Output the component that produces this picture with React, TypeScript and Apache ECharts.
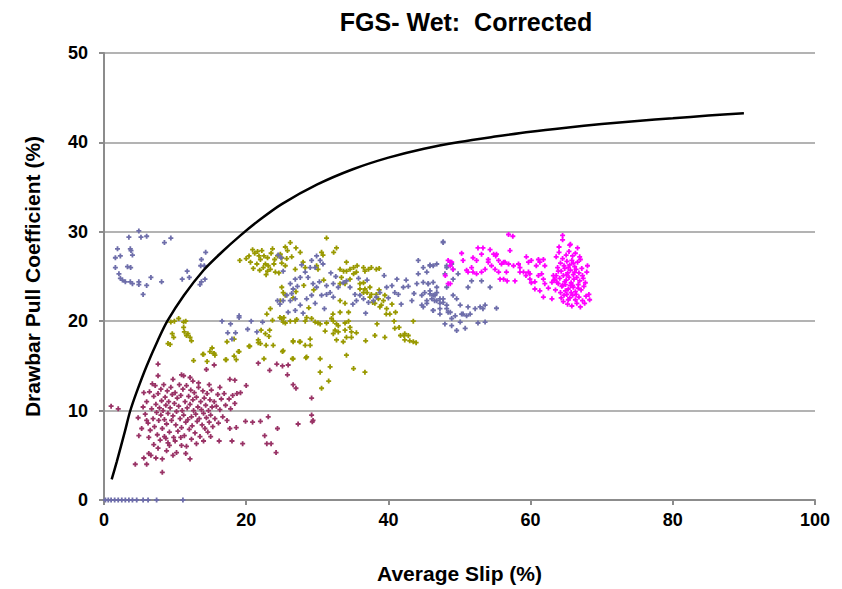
import React, { useEffect, useRef } from "react";
import * as echarts from "echarts";

const titleText = "FGS- Wet:  Corrected";
const xAxisName = "Average Slip (%)";
const yAxisName = "Drawbar Pull Coefficient (%)";

const maroonPoints: number[][] = [
  [1.0, 10.5], [2.0, 10.2], [7.6, 15.2], [7.6, 13.9], [10.9, 14.0], [11.2, 13.9], [12.1, 13.7], [13.3, 13.1],
  [14.4, 14.6], [15.5, 15.1], [17.7, 13.5], [18.4, 13.4], [19.2, 12.0], [20.0, 12.8], [21.7, 15.3], [23.3, 14.5],
  [24.3, 15.2], [25.1, 15.0], [25.9, 15.1], [25.8, 14.0], [26.6, 12.9], [27.0, 12.5], [29.2, 11.4], [29.2, 9.5],
  [29.4, 8.9], [29.3, 8.75], [27.3, 8.5], [24.4, 8.0], [23.1, 9.3], [22.0, 8.8], [20.9, 8.7], [19.9, 8.8],
  [22.6, 7.2], [22.9, 6.3], [23.5, 6.3], [24.2, 5.3], [19.5, 6.3], [18.0, 6.6], [18.6, 8.1], [17.7, 8.0],
  [4.4, 4.0], [6.0, 4.0], [8.2, 3.1], [6.3, 5.2], [6.6, 5.0], [7.3, 4.7], [8.8, 5.5], [9.2, 6.1], [10.2, 5.3],
  [10.9, 6.1], [11.5, 5.2], [12.1, 4.6], [8.2, 4.6], [9.7, 5.0], [5.6, 4.7], [4.9, 7.2], [4.8, 9.2],
  [5.5, 10.4], [5.8, 9.6], [6.0, 11.0], [6.2, 8.6], [6.4, 12.1], [6.5, 7.8], [6.7, 10.2], [6.9, 9.1], [7.0, 11.6],
  [7.1, 8.2], [7.2, 12.8], [7.3, 10.7], [7.4, 9.8], [7.5, 7.3], [7.6, 11.9], [7.7, 8.9], [7.8, 10.3], [7.9, 6.7],
  [8.0, 12.4], [8.0, 9.5], [8.1, 11.1], [8.2, 8.0], [8.3, 10.0], [8.4, 12.9], [8.5, 7.1], [8.5, 9.0], [8.6, 11.5],
  [8.7, 10.6], [8.8, 8.5], [8.9, 12.2], [9.0, 9.7], [9.0, 6.4], [9.1, 11.0], [9.2, 7.6], [9.3, 10.3], [9.4, 12.6],
  [9.5, 8.9], [9.6, 11.8], [9.7, 9.4], [9.8, 7.0], [9.9, 10.8], [10.0, 12.0], [10.1, 8.4], [10.2, 9.9], [10.3, 11.4],
  [10.4, 7.7], [10.5, 10.5], [10.6, 12.9], [10.7, 9.1], [10.8, 11.7], [10.9, 8.1], [11.0, 10.0], [11.1, 12.4],
  [11.2, 9.5], [11.3, 7.2], [11.4, 11.0], [11.5, 8.7], [11.6, 12.8], [11.7, 10.3], [11.8, 9.0], [11.9, 11.6],
  [12.0, 7.9], [12.1, 10.7], [12.2, 12.3], [12.3, 9.3], [12.4, 8.3], [12.5, 11.2], [12.6, 10.0], [12.7, 12.0],
  [12.8, 7.5], [12.9, 9.6], [13.0, 11.5], [13.1, 8.8], [13.2, 10.4], [13.3, 12.6], [13.4, 9.1], [13.5, 7.1],
  [13.6, 11.0], [13.7, 10.1], [13.8, 8.4], [13.9, 12.2], [14.0, 9.7], [14.1, 11.4], [14.2, 8.0], [14.3, 10.6],
  [14.4, 9.2], [14.5, 11.9], [14.6, 7.6], [14.7, 10.0], [14.8, 8.7], [14.9, 11.2], [15.0, 9.5], [15.1, 12.3],
  [15.2, 10.4], [15.3, 8.2], [15.5, 11.0], [15.6, 9.1], [15.8, 10.5], [16.0, 11.8], [16.1, 8.6], [16.3, 10.1],
  [16.5, 11.3], [16.7, 9.3], [16.9, 11.9], [17.1, 10.6], [17.3, 8.9], [17.6, 11.3], [17.8, 10.2], [18.1, 11.7],
  [18.4, 10.8], [18.7, 11.9], [7.0, 6.2], [7.6, 5.8], [8.7, 6.9], [10.0, 6.6], [10.8, 7.0], [12.3, 6.8], [13.0, 6.3],
  [14.0, 6.6], [15.0, 7.1], [16.2, 6.6], [11.6, 6.0], [6.3, 7.0], [6.0, 8.9], [5.3, 8.0], [5.6, 12.0], [6.8, 13.0],
  [9.7, 13.5], [12.5, 13.3], [14.8, 12.9], [16.3, 12.6],
];

const olivePoints: number[][] = [
  [9.4, 19.9], [9.9, 20.0], [10.5, 20.3], [11.2, 19.9], [11.5, 20.0], [9.6, 18.6], [9.8, 18.2], [11.2, 19.3],
  [11.3, 18.8], [11.6, 18.4], [12.1, 18.2], [12.3, 17.8], [11.8, 18.6], [9.0, 17.5], [9.3, 17.4], [12.6, 15.6],
  [13.9, 16.3], [14.5, 15.5], [15.4, 16.4], [15.6, 16.2], [17.3, 17.7], [18.9, 16.6], [18.3, 16.1], [18.6, 15.7],
  [17.2, 15.7], [20.4, 17.2], [21.7, 17.6], [22.8, 17.3], [23.8, 17.3], [25.1, 16.6], [22.5, 15.8], [26.5, 15.8],
  [28.4, 15.9], [26.6, 17.7], [27.5, 17.7], [29.0, 17.3], [15.2, 17.0], [15.5, 16.4], [14.9, 16.6], [14.0, 16.3],
  [18.3, 18.0], [19.0, 16.6], [17.1, 15.7],
  [22.9, 20.8], [23.4, 21.4], [22.1, 19.0], [22.7, 18.6], [23.3, 19.0], [23.2, 18.3], [21.7, 17.9], [22.0, 17.5],
  [20.5, 17.2], [23.7, 20.1], [25.3, 20.4],
  [19.1, 26.8], [20.4, 27.3], [21.6, 27.8], [21.8, 27.3], [22.0, 26.9], [22.5, 27.3], [23.0, 27.1], [22.7, 26.4],
  [23.1, 26.2], [23.4, 25.8], [23.9, 26.4], [24.1, 25.5], [24.6, 25.4], [21.5, 26.4], [21.9, 25.7], [20.6, 26.6],
  [24.4, 27.3], [24.8, 27.5], [20.0, 27.0], [21.2, 27.6], [22.2, 27.9], [23.5, 27.6], [22.4, 26.0], [23.0, 25.6],
  [24.0, 26.9], [21.0, 25.9], [22.8, 25.2], [25.0, 26.5], [20.9, 28.0], [23.7, 28.1],
  [26.2, 28.8], [31.3, 29.3], [25.5, 28.3], [27.0, 28.2], [27.6, 27.7], [25.8, 27.9], [30.6, 27.7], [30.8, 27.4],
  [32.3, 27.7], [32.7, 28.2], [25.0, 27.1], [25.7, 27.0], [26.4, 27.2], [28.0, 26.6], [28.3, 26.0], [26.9, 25.8],
  [25.5, 26.2], [29.9, 26.2], [30.1, 25.8], [34.1, 26.6], [33.2, 25.8], [33.7, 25.6], [34.6, 25.8], [35.1, 26.0],
  [35.6, 26.2], [36.5, 26.0], [36.7, 25.6], [37.2, 25.8], [37.6, 26.0], [38.3, 25.8], [38.7, 25.9], [25.0, 23.8],
  [25.2, 23.2], [25.5, 22.9], [24.8, 22.3],
  [24.75, 20.4], [25.0, 20.3], [25.2, 19.9], [25.5, 19.8], [26.2, 20.0], [26.9, 20.0], [27.1, 20.2], [28.3, 20.0],
  [28.5, 20.4], [29.2, 20.3], [29.7, 19.9], [30.1, 19.8], [30.4, 19.7], [31.3, 19.8], [32.0, 20.3], [32.25, 20.0],
  [32.7, 19.7], [32.95, 19.5], [33.9, 19.8], [34.4, 20.0],
  [36.5, 24.3], [36.7, 23.6], [37.0, 23.2], [37.4, 23.8], [37.4, 22.7], [37.8, 22.1], [38.3, 23.0], [38.7, 23.5],
  [38.6, 22.5], [39.0, 21.8], [39.3, 22.3], [39.5, 22.9], [39.75, 21.4], [40.2, 20.8], [39.7, 20.8], [38.8, 21.6],
  [38.1, 22.0], [37.6, 23.0], [40.8, 20.0], [41.5, 19.3], [42.3, 18.6], [43.0, 17.8], [41.0, 21.0], [40.5, 21.9],
  [34.1, 25.6], [33.4, 24.9], [33.2, 24.2], [33.9, 24.2], [34.6, 24.7], [35.1, 25.3], [35.5, 25.5], [36.0, 24.2],
  [36.0, 23.6], [36.5, 23.2], [33.2, 22.3], [33.9, 22.0], [34.4, 21.0], [33.2, 21.0], [32.2, 20.8], [26.6, 22.6],
  [28.1, 24.0], [27.0, 23.3], [29.5, 23.5], [30.9, 24.6], [28.8, 21.5],
  [26.6, 17.8], [27.6, 17.7], [29.0, 18.0], [28.3, 17.3], [25.2, 16.7], [28.5, 16.0], [26.6, 15.8], [31.1, 18.9],
  [32.5, 19.0], [32.25, 18.6], [32.95, 18.8], [33.9, 19.0], [34.6, 19.3], [34.8, 18.8], [35.5, 18.7], [34.1, 18.2],
  [34.8, 18.2], [33.65, 17.7], [32.7, 17.9], [36.8, 17.8], [38.1, 18.4], [39.5, 18.2], [38.4, 19.7], [40.9, 19.2],
  [41.7, 18.4], [42.3, 17.9], [42.8, 18.4], [42.2, 18.4], [43.5, 17.7], [43.9, 17.6], [43.5, 20.0], [34.1, 16.2],
  [31.8, 14.9], [35.1, 14.7], [30.4, 14.3], [36.7, 14.3], [30.4, 15.8], [30.6, 12.5], [31.6, 13.3],
];

const slatePoints: number[][] = [
  [4.9, 30.1], [3.5, 29.4], [5.2, 29.4], [6.0, 29.5], [8.5, 28.8], [9.4, 29.3], [1.9, 28.1], [3.7, 28.1],
  [3.8, 27.9], [4.0, 27.4], [2.3, 27.3], [1.6, 27.1], [3.3, 26.1], [3.75, 26.0], [1.6, 26.0], [2.1, 25.3],
  [2.3, 24.8], [2.6, 24.6], [3.0, 24.4], [3.7, 24.4], [4.0, 24.2], [4.9, 24.4], [4.9, 24.1], [6.0, 24.0],
  [6.6, 24.9], [8.1, 24.4], [5.5, 23.0], [11.0, 24.7], [11.7, 25.6], [12.0, 24.9], [13.6, 26.2], [14.1, 26.2],
  [14.3, 27.7], [13.7, 26.9], [13.5, 24.1], [13.7, 24.4], [14.2, 24.7],
  [19.0, 20.6], [19.0, 20.4], [16.6, 20.0], [17.8, 19.7], [17.4, 18.7], [18.5, 18.7], [18.0, 18.0], [20.2, 19.1],
  [20.7, 20.0], [21.5, 18.8], [22.3, 19.9], [24.4, 22.3], [24.75, 21.9], [24.5, 27.4], [24.9, 27.1], [25.2, 25.6],
  [29.2, 26.8], [29.9, 27.3], [30.4, 26.8], [30.8, 26.4], [29.7, 26.0], [29.0, 26.0], [28.3, 25.5], [27.6, 24.9],
  [26.9, 24.7], [26.2, 24.2], [26.6, 23.6], [26.4, 23.1], [25.7, 22.9], [25.2, 22.3], [26.2, 22.3], [26.9, 22.5],
  [27.6, 21.8], [26.9, 21.2], [25.9, 21.0], [28.7, 24.9], [29.4, 24.2], [29.9, 23.8], [30.6, 22.9], [31.3, 23.0],
  [31.8, 23.2], [32.25, 22.7], [29.2, 22.9], [28.5, 22.5], [29.7, 22.0], [31.3, 23.97], [32.25, 24.2], [32.95, 23.8],
  [33.65, 24.3], [34.1, 24.5], [34.6, 23.8], [35.3, 23.0], [35.5, 22.3], [36.0, 22.9], [36.5, 22.5], [37.2, 22.1],
  [37.9, 22.3], [38.3, 22.7], [38.8, 23.2], [39.75, 23.8], [40.5, 23.97], [41.2, 24.7], [40.9, 23.2], [41.4, 23.0],
  [42.1, 23.8], [42.8, 23.9], [43.3, 22.3], [44.0, 24.2], [44.2, 25.3], [44.2, 26.8], [44.9, 26.0], [45.6, 24.2],
  [45.85, 23.4], [46.3, 22.9], [46.8, 23.2], [46.5, 22.3], [47.25, 22.0], [47.7, 22.5], [48.2, 21.8], [48.4, 21.0],
  [47.25, 20.8], [46.3, 21.2], [45.4, 22.0], [44.7, 21.8], [45.85, 26.2], [46.8, 26.4], [47.7, 28.8], [48.2, 26.0],
  [47.7, 28.9], [45.85, 26.3], [46.3, 26.2], [45.4, 25.5], [44.9, 24.35], [45.6, 24.2], [46.3, 24.35], [46.8, 23.8],
  [45.1, 23.2], [45.85, 23.05], [46.55, 22.9], [44.7, 22.9], [45.4, 22.3], [46.1, 22.5], [46.8, 22.3], [47.25, 22.5],
  [47.7, 22.1], [47.25, 21.4], [46.3, 21.2], [44.9, 21.6], [47.95, 25.3], [48.2, 26.2], [48.9, 26.4], [49.1, 25.8],
  [49.8, 25.3], [49.1, 24.7], [48.2, 23.8], [49.1, 22.9], [49.6, 22.5], [50.1, 21.8], [50.3, 20.8], [49.4, 20.6],
  [48.7, 21.0], [48.2, 21.4], [51.2, 21.6], [51.5, 20.8], [51.0, 20.6], [50.5, 20.8], [52.2, 21.4], [52.9, 21.6],
  [53.6, 21.8], [53.3, 21.4], [55.2, 21.45], [54.3, 23.8], [53.1, 24.5], [51.2, 23.8], [51.7, 24.5], [47.95, 19.7],
  [48.9, 19.5], [49.6, 18.96], [50.8, 19.2], [50.1, 19.9], [52.6, 19.8], [53.6, 19.9], [48.9, 20.3],
  [27.8, 26.3], [31.9, 25.4], [30.3, 24.4], [27.2, 23.9], [32.6, 25.0], [35.8, 24.8], [39.4, 25.1], [37.0, 24.6],
  [40.0, 22.6], [43.6, 23.1], [42.5, 24.6], [35.0, 21.9], [31.0, 21.4], [28.0, 20.9], [36.8, 20.9], [41.8, 21.9],
  [0.2, 0], [0.6, 0], [1.0, 0], [1.5, 0], [2.0, 0], [2.5, 0], [3.0, 0], [3.5, 0], [4.0, 0], [4.6, 0], [5.5, 0],
  [6.2, 0], [7.4, 0], [11.1, 0],
];

const magentaPoints: number[][] = [
  [48.4, 26.8], [48.75, 26.6], [49.1, 25.8], [48.0, 25.1], [48.4, 24.2], [48.9, 26.6], [48.7, 26.2], [50.3, 27.6],
  [50.5, 26.8], [51.9, 27.1], [52.6, 28.2], [53.3, 28.2], [53.1, 27.5], [52.4, 26.8], [54.3, 28.0], [54.8, 27.5],
  [55.1, 27.3], [54.05, 26.6], [54.5, 26.2], [55.5, 26.8], [55.9, 26.4], [56.2, 26.6], [56.9, 26.4], [57.1, 27.9],
  [57.6, 26.2], [58.3, 26.4], [58.5, 26.0], [59.4, 27.2], [59.7, 26.6], [60.1, 26.8], [60.8, 26.2], [61.3, 26.6],
  [61.8, 26.9], [62.0, 26.2], [61.1, 26.9], [56.9, 29.7], [57.5, 29.5], [54.05, 26.9], [51.0, 25.7], [51.2, 25.5],
  [51.9, 25.5], [52.4, 25.3], [53.1, 25.5], [53.6, 25.8], [55.0, 25.8], [55.5, 25.5], [55.7, 24.7], [56.2, 24.7],
  [56.7, 24.5], [58.5, 25.5], [59.0, 25.5], [59.35, 25.1], [59.7, 25.5], [59.9, 24.7], [60.1, 24.3], [60.6, 24.4],
  [61.1, 25.1], [61.55, 25.3], [61.8, 24.7], [62.0, 24.2], [62.5, 23.7], [61.3, 23.4], [60.6, 23.6], [63.0, 24.35],
  [63.2, 25.1], [63.4, 24.7], [63.7, 24.35], [63.0, 22.5], [61.8, 22.7], [59.9, 25.3], [56.6, 25.5], [57.8, 24.5],
  [51.7, 26.0], [48.7, 24.2], [64.5, 29.6], [64.5, 29.1], [65.5, 28.5], [55.2, 27.5], [56.4, 26.6],
  [64.0, 27.7], [64.5, 27.0], [65.0, 27.4], [65.4, 27.8], [65.9, 27.3], [66.3, 27.6], [64.2, 26.5], [64.7, 26.2],
  [65.1, 26.7], [65.5, 26.3], [65.8, 26.8], [66.2, 26.1], [66.6, 26.6], [67.0, 26.9], [63.8, 26.0], [64.3, 25.6],
  [64.8, 25.9], [65.2, 25.4], [65.6, 25.7], [66.0, 25.2], [66.4, 25.8], [66.8, 25.4], [67.2, 25.9], [63.6, 25.1],
  [64.1, 24.8], [64.6, 25.1], [65.0, 24.6], [65.4, 24.9], [65.7, 24.3], [66.1, 24.7], [66.5, 24.9], [66.9, 24.5],
  [67.4, 24.8], [63.9, 24.2], [64.4, 23.9], [64.9, 24.1], [65.3, 23.6], [65.6, 24.0], [66.0, 23.8], [66.3, 23.3],
  [66.7, 23.7], [67.1, 23.5], [67.5, 23.9], [64.2, 23.2], [64.7, 22.9], [65.1, 23.0], [65.5, 22.6], [65.9, 22.9],
  [66.3, 22.4], [66.8, 22.7], [67.3, 22.3], [67.8, 22.8], [68.2, 23.0], [64.6, 22.2], [65.2, 21.9], [65.8, 21.7],
  [66.5, 22.0], [67.0, 21.6], [63.5, 23.5], [63.3, 24.6], [67.7, 24.3], [67.9, 25.5], [68.0, 26.2], [63.6, 27.2],
  [64.0, 28.3], [66.6, 28.2], [65.6, 28.6], [64.8, 24.4], [65.9, 24.0], [66.2, 25.5], [65.3, 26.0], [64.5, 24.0],
  [66.7, 24.1], [65.1, 25.2], [66.0, 26.5], [64.9, 23.4], [65.7, 23.2], [66.4, 23.0], [67.3, 25.1], [63.9, 25.6],
  [64.3, 22.6], [66.9, 27.2], [65.3, 22.4], [67.6, 22.0], [68.3, 22.4],
];

const curvePoints: number[][] = [
  [1.08, 2.3], [1.8, 4.3], [2.95, 7.7], [3.66, 9.9], [4.6, 12.1], [6.0, 15.0], [7.6, 17.9], [8.9, 20.0],
  [11.25, 22.9], [14.0, 25.7], [16.4, 27.6], [19.2, 29.6], [22.0, 31.4], [25.0, 33.1], [30.0, 35.3], [35.0, 37.0],
  [40.0, 38.3], [45.0, 39.3], [50.0, 40.05], [55.0, 40.65], [60.0, 41.2], [65.0, 41.65], [70.0, 42.05], [75.0, 42.4],
  [80.0, 42.7], [85.0, 43.0], [90.0, 43.25],
];

const FONT = '"Liberation Sans", Arial, sans-serif';
const PLUS = "path://M1.6,0L3.4,0L3.4,1.6L5,1.6L5,3.4L3.4,3.4L3.4,5L1.6,5L1.6,3.4L0,3.4L0,1.6L1.6,1.6Z";

function scatter(name: string, data: number[][], color: string) {
  return {
    name,
    type: "scatter",
    data,
    symbol: PLUS,
    symbolSize: 5,
    itemStyle: { color, opacity: 1 },
    silent: true,
  };
}

export default function App() {
  const ref = useRef<HTMLDivElement>(null);
  useEffect(() => {
    if (!ref.current) return;
    const chart = echarts.init(ref.current, null, { renderer: "svg" });
    chart.setOption({
      animation: false,
      backgroundColor: "#ffffff",
      grid: { left: 104, right: 27, top: 53, bottom: 87, containLabel: false },
      graphic: [
        {
          type: "text",
          x: 466,
          y: 22,
          style: {
            text: titleText,
            font: `bold 25px ${FONT}`,
            fill: "#000",
            textAlign: "center",
            textVerticalAlign: "middle",
          },
        },
      ],
      xAxis: {
        type: "value",
        min: 0,
        max: 100,
        interval: 20,
        name: xAxisName,
        nameLocation: "middle",
        nameGap: 63,
        nameTextStyle: { fontFamily: FONT, fontWeight: "bold", fontSize: 21, color: "#000" },
        axisLine: { show: true, onZero: false, lineStyle: { color: "#8c8c8c", width: 2 } },
        axisTick: { show: true, length: 5, lineStyle: { color: "#8c8c8c", width: 2 } },
        axisLabel: { fontFamily: FONT, fontWeight: "bold", fontSize: 18, color: "#000", margin: 11 },
        splitLine: { show: false },
      },
      yAxis: {
        type: "value",
        min: 0,
        max: 50,
        interval: 10,
        name: yAxisName,
        nameLocation: "middle",
        nameGap: 61,
        nameRotate: 90,
        nameTextStyle: { fontFamily: FONT, fontWeight: "bold", fontSize: 21, color: "#000" },
        axisLine: { show: true, lineStyle: { color: "#8c8c8c", width: 2 } },
        axisTick: { show: true, length: 5, lineStyle: { color: "#8c8c8c", width: 2 } },
        axisLabel: { fontFamily: FONT, fontWeight: "bold", fontSize: 18, color: "#000", margin: 16 },
        splitLine: { show: true, lineStyle: { color: "#9a9a9a", width: 1.5 } },
      },
      series: [
        scatter("maroon", maroonPoints, "#993366"),
        scatter("olive", olivePoints, "#999900"),
        scatter("slate", slatePoints, "#6e6eaa"),
        scatter("magenta", magentaPoints, "#ff00ff"),
        {
          name: "fit",
          type: "line",
          data: curvePoints,
          showSymbol: false,
          smooth: 0.3,
          lineStyle: { color: "#000", width: 2.5 },
          z: 10,
          silent: true,
        },
      ],
    });
    return () => chart.dispose();
  }, []);
  return (
    <div
      ref={ref}
      style={{ position: "fixed", left: 0, top: 0, width: 842, height: 589, background: "#fff" }}
    />
  );
}
